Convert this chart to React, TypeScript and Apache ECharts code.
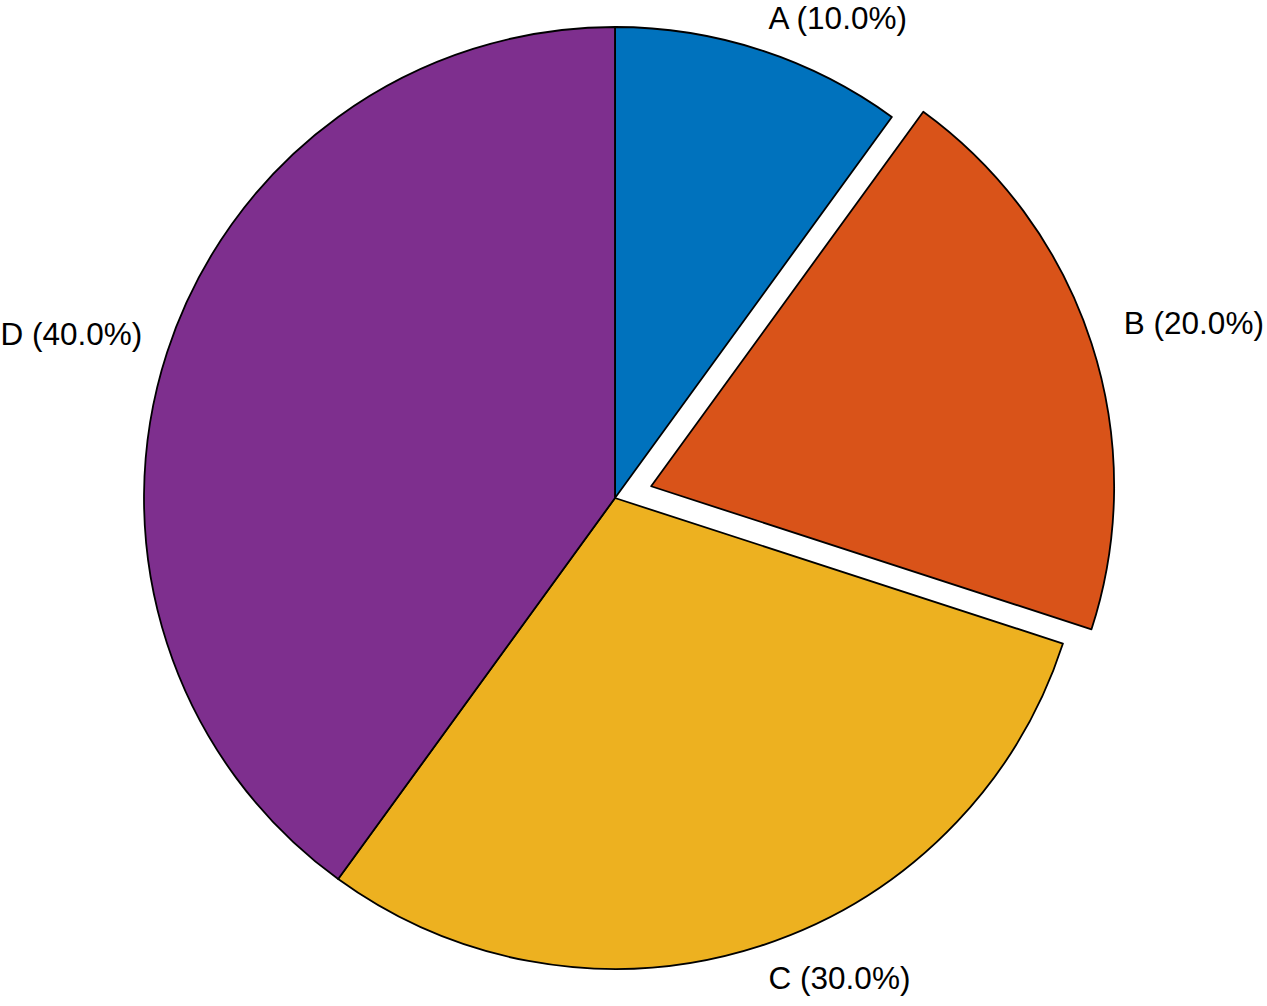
import React, { useEffect, useRef } from "react";
import * as echarts from "echarts";

const categories = ["A", "B", "C", "D"];
const values = [10, 20, 30, 40];
const exploded = [false, true, false, false];
const colors = ["#0072BD", "#D95319", "#EDB120", "#7E2F8E"];

export default function App() {
  const ref = useRef<HTMLDivElement>(null);
  useEffect(() => {
    const chart = echarts.init(ref.current!, null, { renderer: "svg" });
    const total = values.reduce((a, b) => a + b, 0);
    const mids: number[] = [];
    let acc = 0;
    values.forEach((v) => {
      mids.push(((acc + v / 2) / total) * 2 * Math.PI);
      acc += v;
    });
    const common = {
      type: "pie",
      center: [615, 498],
      startAngle: 90,
      clockwise: true,
      avoidLabelOverlap: false,
      selectedMode: "multiple",
      selectedOffset: 38,
      emphasis: { disabled: true },
    };
    chart.setOption({
      animation: false,
      backgroundColor: "#ffffff",
      series: [
        {
          ...common,
          radius: 471,
          itemStyle: { borderColor: "#000000", borderWidth: 1.8 },
          label: {
            show: true,
            position: "outside",
            distanceToLabelLine: 0,
            color: "#000000",
            fontSize: 31.5,
            fontFamily: "'Liberation Sans', Arial, Helvetica, sans-serif",
            formatter: (p: any) =>
              `${p.name} (${((p.value / total) * 100).toFixed(1)}%)`,
          },
          labelLine: { show: false, length: 26, length2: 0 },
          labelLayout: (params: any) => ({
            dy:
              -Math.sign(Math.cos(mids[params.dataIndex])) *
              (Math.abs(Math.cos(mids[params.dataIndex])) > 0.5 ? 7 : 10),
          }),
          data: categories.map((c, i) => ({
            name: c,
            value: values[i],
            selected: exploded[i],
            itemStyle: exploded[i]
              ? { color: "rgba(0,0,0,0)", borderWidth: 0 }
              : { color: colors[i] },
          })),
        },
        {
          ...common,
          radius: 463,
          silent: true,
          label: { show: false },
          labelLine: { show: false },
          data: categories.map((c, i) => ({
            name: c,
            value: values[i],
            selected: exploded[i],
            itemStyle: exploded[i]
              ? { color: colors[i], borderColor: "#000000", borderWidth: 1.8 }
              : { color: "rgba(0,0,0,0)", borderWidth: 0 },
          })),
        },
      ],
    });
    return () => chart.dispose();
  }, []);
  return (
    <div
      ref={ref}
      style={{ position: "absolute", left: 0, top: 0, width: 1267, height: 1006 }}
    />
  );
}
